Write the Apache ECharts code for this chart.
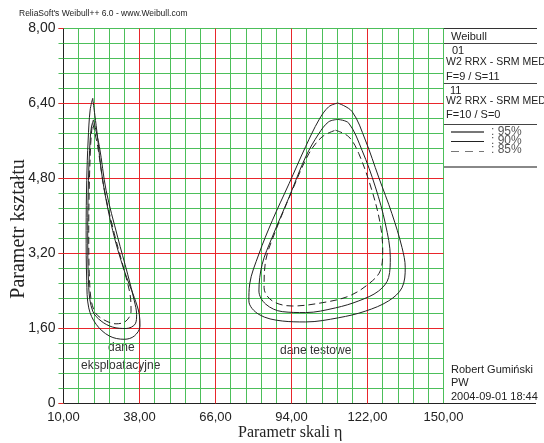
<!DOCTYPE html>
<html>
<head>
<meta charset="utf-8">
<script src="https://cdn.jsdelivr.net/npm/echarts@6/dist/echarts.min.js"></script>
<style>html,body{margin:0;padding:0;background:#fff;}#c{width:544px;height:443px;}</style>
</head>
<body>
<div id="c"></div>
<script>
// Axis ticks (major, labelled) and minor subdivisions
var xTicks = [10, 38, 66, 94, 122, 150];
var yTicks = [0, 1.6, 3.2, 4.8, 6.4, 8.0];
var minorPerMajor = 5;

// Contour 01 (dane eksploatacyjne) [eta, beta]
var c01_95 = [[20.77,6.51],[22.24,5.83],[24.44,4.76],[28.12,3.69],[32.41,2.83],[36.09,2.26],[37.93,1.90],[38.18,1.65],[36.09,1.44],[32.41,1.37],[26.90,1.44],[22.02,1.69],[19.30,2.04],[18.56,2.62],[18.34,3.69],[18.56,4.76],[19.08,5.62],[19.81,6.26]];
var c01_90 = [[21.02,6.05],[23.23,5.48],[25.69,4.55],[29.95,3.55],[33.63,2.76],[36.09,2.19],[36.93,1.90],[36.46,1.70],[33.04,1.60],[28.12,1.63],[23.85,1.76],[20.77,1.97],[19.30,2.47],[18.93,3.69],[19.19,4.76],[19.81,5.62],[20.29,5.90]];
var c01_85 = [[20.77,5.98],[22.60,5.48],[25.07,4.55],[28.74,3.62],[32.41,2.83],[34.51,2.33],[34.88,1.97],[33.04,1.76],[29.37,1.70],[24.44,1.80],[21.39,1.97],[19.81,2.40],[19.30,3.69],[19.55,4.76],[20.03,5.55],[20.40,5.83]];

// Contour 11 (dane testowe)
var c11_95 = [[111.05,6.41],[116.3,6.23],[121.2,5.62],[126.1,4.83],[131.0,4.05],[134.7,3.33],[135.9,2.90],[134.7,2.47],[129.8,2.19],[121.2,1.97],[111.4,1.83],[99.2,1.74],[90.6,1.76],[82.0,1.90],[78.3,2.19],[78.6,2.55],[82.0,3.19],[86.9,3.90],[93.1,4.69],[99.2,5.48],[104.1,6.05],[107.7,6.33]];
var c11_90 = [[111.05,6.06],[115.1,5.98],[120.0,5.40],[124.9,4.62],[128.6,3.83],[130.4,3.12],[129.8,2.69],[126.1,2.40],[118.8,2.19],[110.2,2.04],[99.2,1.94],[90.6,1.96],[84.5,2.12],[82.0,2.40],[83.2,2.97],[86.9,3.55],[93.1,4.40],[99.2,5.26],[104.1,5.76],[107.7,6.01]];
var c11_85 = [[110.2,5.83],[115.1,5.69],[118.8,5.33],[123.6,4.55],[126.7,3.83],[127.6,3.26],[126.7,2.83],[122.4,2.55],[115.1,2.29],[105.3,2.15],[94.3,2.08],[86.9,2.19],[83.9,2.47],[84.5,3.05],[88.2,3.69],[94.3,4.55],[100.4,5.33],[105.3,5.69]];

function closed(a){ return a.concat([a[0]]); }
function fmt(v){ if (Math.abs(v) < 1e-9) return '0'; return v.toFixed(2).replace('.', ','); }

var RED = '#e8262b', GREEN = '#4cbf5a', INK = '#222';
function contour(name, data, dashed){
  return {
    type: 'line', name: name, data: closed(data), smooth: 0.35, symbol: 'none',
    xAxisIndex: 1, yAxisIndex: 1,
    lineStyle: { color: '#222', width: 1, type: dashed ? [7,4] : 'solid' },
    silent: true, animation: false, z: 10
  };
}

// major (red) grid lines, drawn through the axes as mark lines
var majorLines = xTicks.slice(1, -1).map(function(v){ return { xAxis: v }; })
  .concat(yTicks.slice(1, -1).map(function(v){ return { yAxis: v }; }));

var chart = echarts.init(document.getElementById('c'), null, {renderer: 'canvas'});
var txt = function(x, y, s, size, extra){
  var st = Object.assign({ text: s, fill: INK, font: (size||11) + 'px "Liberation Sans", Arial, sans-serif', textVerticalAlign: 'middle' }, extra || {});
  return { type: 'text', left: x, top: y, style: st, silent: true };
};
var line = function(x1, y1, x2, y2, color, w, dash){
  return { type: 'line', shape: {x1:x1,y1:y1,x2:x2,y2:y2}, style: {stroke: color||INK, lineWidth: w||1, lineDash: dash||null}, silent: true };
};

var xMin = xTicks[0], xMax = xTicks[xTicks.length-1], xStep = xTicks[1]-xTicks[0];
var yMin = yTicks[0], yMax = yTicks[yTicks.length-1], yStep = yTicks[1]-yTicks[0];

chart.setOption({
  animation: false,
  backgroundColor: '#fff',
  grid: { left: 63.5, width: 380, top: 28.5, height: 375, containLabel: false },
  xAxis: [{
    type: 'value', min: xMin, max: xMax, interval: xStep / minorPerMajor, position: 'bottom',
    axisLine: { show: false }, axisTick: { show: false }, axisLabel: { show: false },
    splitLine: { show: true, lineStyle: { color: GREEN, width: 1 } }
  }, {
    type: 'value', min: xMin, max: xMax, interval: xStep, position: 'bottom',
    axisLine: { show: true, lineStyle: { color: INK, width: 1 } },
    axisTick: { show: false },
    axisLabel: { formatter: fmt, color: INK, fontSize: 13, fontFamily: 'Liberation Sans', margin: 7 },
    splitLine: { show: false }
  }],
  yAxis: [{
    type: 'value', min: yMin, max: yMax, interval: yStep / minorPerMajor, position: 'left',
    axisLine: { show: false },
    axisTick: { show: true, length: 5, lineStyle: { color: GREEN } },
    axisLabel: { show: false },
    splitLine: { show: true, lineStyle: { color: GREEN, width: 1 } }
  }, {
    type: 'value', min: yMin, max: yMax, interval: yStep, position: 'left',
    axisLine: { show: true, lineStyle: { color: INK, width: 1 } },
    axisTick: { show: true, length: 5, lineStyle: { color: RED } },
    axisLabel: { formatter: fmt, color: INK, fontSize: 14, fontFamily: 'Liberation Sans', margin: 8 },
    splitLine: { show: false }
  }],
  series: [
    {
      type: 'line', name: 'major grid', data: [], xAxisIndex: 1, yAxisIndex: 1, z: 3, silent: true,
      markLine: {
        silent: true, symbol: ['none', 'none'], animation: false, label: { show: false },
        lineStyle: { color: RED, width: 1, type: 'solid' },
        emphasis: { disabled: true },
        data: majorLines
      }
    },
    contour('01 95%', c01_95, false), contour('01 90%', c01_90, false), contour('01 85%', c01_85, true),
    contour('11 95%', c11_95, false), contour('11 90%', c11_90, false), contour('11 85%', c11_85, true)
  ],
  graphic: [
    txt(19, 9, "ReliaSoft's Weibull++ 6.0 - www.Weibull.com", 8.5),
    line(63, 28.5, 537, 28.5, '#333', 1),
    line(443.5, 28, 443.5, 404, INK, 1),
    line(443, 403.5, 536, 403.5, INK, 1),
    line(443, 43.5, 537, 43.5, '#444', 1),
    line(443, 83.5, 537, 83.5, '#444', 1),
    line(443, 124.5, 537, 124.5, '#444', 1),
    line(443, 167, 537, 167, '#888', 2),
    txt(451, 31, 'Weibull', 11),
    txt(452, 45, '01', 11),
    txt(446, 57, 'W2 RRX - SRM MED', 10.5),
    txt(446, 71, 'F=9 / S=11', 11),
    txt(450, 85, '11', 11),
    txt(446, 96, 'W2 RRX - SRM MED', 10.5),
    txt(446, 109, 'F=10 / S=0', 11),
    line(451, 132, 484, 132, '#777', 2),
    line(451, 141.5, 484, 141.5, '#222', 1),
    line(451, 151.5, 484, 151.5, '#777', 1, [8,6]),
    txt(491, 126, ': 95%', 12, {fill:'#555'}),
    txt(491, 135, ': 90%', 12, {fill:'#555'}),
    txt(491, 144, ': 85%', 12, {fill:'#555'}),
    txt(451, 364, 'Robert Gumiński', 11),
    txt(451, 377, 'PW', 11),
    txt(451, 391, '2004-09-01 18:44', 11),
    { type: 'text', left: 108, top: 342, style: { text: 'dane', fill: '#333', font: '12px "Liberation Sans", Arial, sans-serif' }, silent: true },
    { type: 'text', left: 81, top: 360, style: { text: 'eksploatacyjne', fill: '#333', font: '12px "Liberation Sans", Arial, sans-serif' }, silent: true },
    { type: 'text', left: 280, top: 345, style: { text: 'dane testowe', fill: '#333', font: '12px "Liberation Sans", Arial, sans-serif' }, silent: true },
    { type: 'text', left: 238, top: 425, style: { text: 'Parametr skali η', fill: INK, font: '16px "Liberation Serif", "Times New Roman", serif' }, silent: true },
    { type: 'text', x: 19, y: 229, rotation: Math.PI/2, style: { x: 0, y: 0, text: 'Parametr kształtu', fill: INK, font: '20px "Liberation Serif", "Times New Roman", serif', textAlign: 'center', textVerticalAlign: 'middle' }, silent: true }
  ]
});
</script>
</body>
</html>
